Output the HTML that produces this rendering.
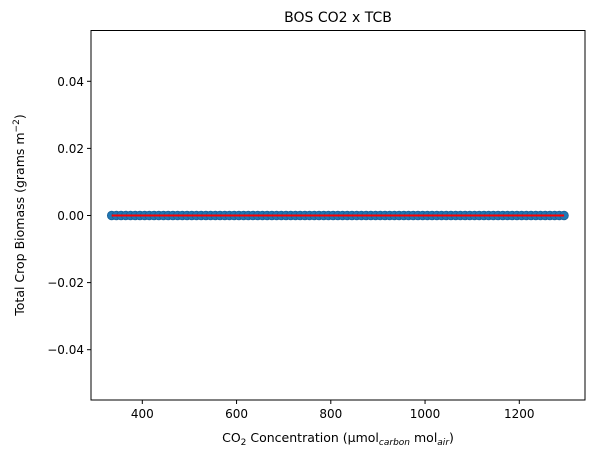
<!DOCTYPE html>
<html><head><meta charset="utf-8"><style>
body{margin:0;background:#fff;}
svg text{font-family:"DejaVu Sans","Liberation Sans",sans-serif;fill:#000;}
</style></head><body>
<svg id="chart" width="595" height="457">
<rect width="595" height="457" fill="#fff"/>
<text x="338" y="22" font-size="14" text-anchor="middle">BOS CO2 x TCB</text>
<g id="marks"></g>
<rect x="91" y="30.5" width="494" height="369.5" fill="none" stroke="#000" stroke-width="1"/>
<g id="xticks"></g><g id="yticks"></g>
<text x="338" y="442" font-size="12.5" text-anchor="middle">CO<tspan font-size="9" dy="3">2</tspan><tspan dy="-3"> Concentration (µmol</tspan><tspan font-size="9" dy="3" font-style="italic">carbon</tspan><tspan dy="-3"> mol</tspan><tspan font-size="9" dy="3" font-style="italic">air</tspan><tspan dy="-3">)</tspan></text>
<text transform="translate(24,215) rotate(-90)" font-size="12.5" text-anchor="middle">Total Crop Biomass (grams m<tspan font-size="9" dy="-5">−2</tspan><tspan dy="5">)</tspan></text>
</svg>
<script>
const co2 = [335,345,355,365,375,385,395,405,415,425,435,445,455,465,475,485,495,505,515,525,535,545,555,565,575,585,595,605,615,625,635,645,655,665,675,685,695,705,715,725,735,745,755,765,775,785,795,805,815,825,835,845,855,865,875,885,895,905,915,925,935,945,955,965,975,985,995,1005,1015,1025,1035,1045,1055,1065,1075,1085,1095,1105,1115,1125,1135,1145,1155,1165,1175,1185,1195,1205,1215,1225,1235,1245,1255,1265,1275,1285,1295];
const biomass = co2.map(()=>0);
const fitX = [335,1295];
const fitY = [0,0];
const xTicks = [400,600,800,1000,1200];
const yTicks = [0.04,0.02,0.00,-0.02,-0.04];
const yTickLabels = ["0.04","0.02","0.00","−0.02","−0.04"];

const NS="http://www.w3.org/2000/svg";
function sx(v){return 142.3+(v-400)*0.47125;}
function sy(v){return 215.5-v*3355;}
function mk(tag,attrs,parent){const e=document.createElementNS(NS,tag);for(const k in attrs)e.setAttribute(k,attrs[k]);parent.appendChild(e);return e;}
const marks=document.getElementById('marks');
co2.forEach((c,i)=>{
  const p=mk('circle',{cx:sx(c),cy:sy(biomass[i]),r:4.3,fill:'#1f77b4',stroke:'#1a5f95','stroke-width':0.8},marks);
  
  
});
const ln=mk('line',{x1:sx(fitX[0]),y1:sy(fitY[0]),x2:sx(fitX[1]),y2:sy(fitY[1]),stroke:'#ff0000','stroke-width':2},marks);


const xg=document.getElementById('xticks');
xTicks.forEach(t=>{
  const l=mk('line',{x1:sx(t),x2:sx(t),y1:400,y2:404,stroke:'#000'},xg);
  
  
  const tx=mk('text',{x:sx(t),y:418,'font-size':12,'text-anchor':'middle'},xg);
  tx.textContent=t;
  
  
});
const yg=document.getElementById('yticks');
yTicks.forEach((t,i)=>{
  const l=mk('line',{x1:87,x2:91,y1:sy(t),y2:sy(t),stroke:'#000'},yg);
  
  
  const tx=mk('text',{x:84,y:sy(t)+4.5,'font-size':12,'text-anchor':'end'},yg);
  tx.textContent=yTickLabels[i];
  
  
});
</script>
</body></html>
